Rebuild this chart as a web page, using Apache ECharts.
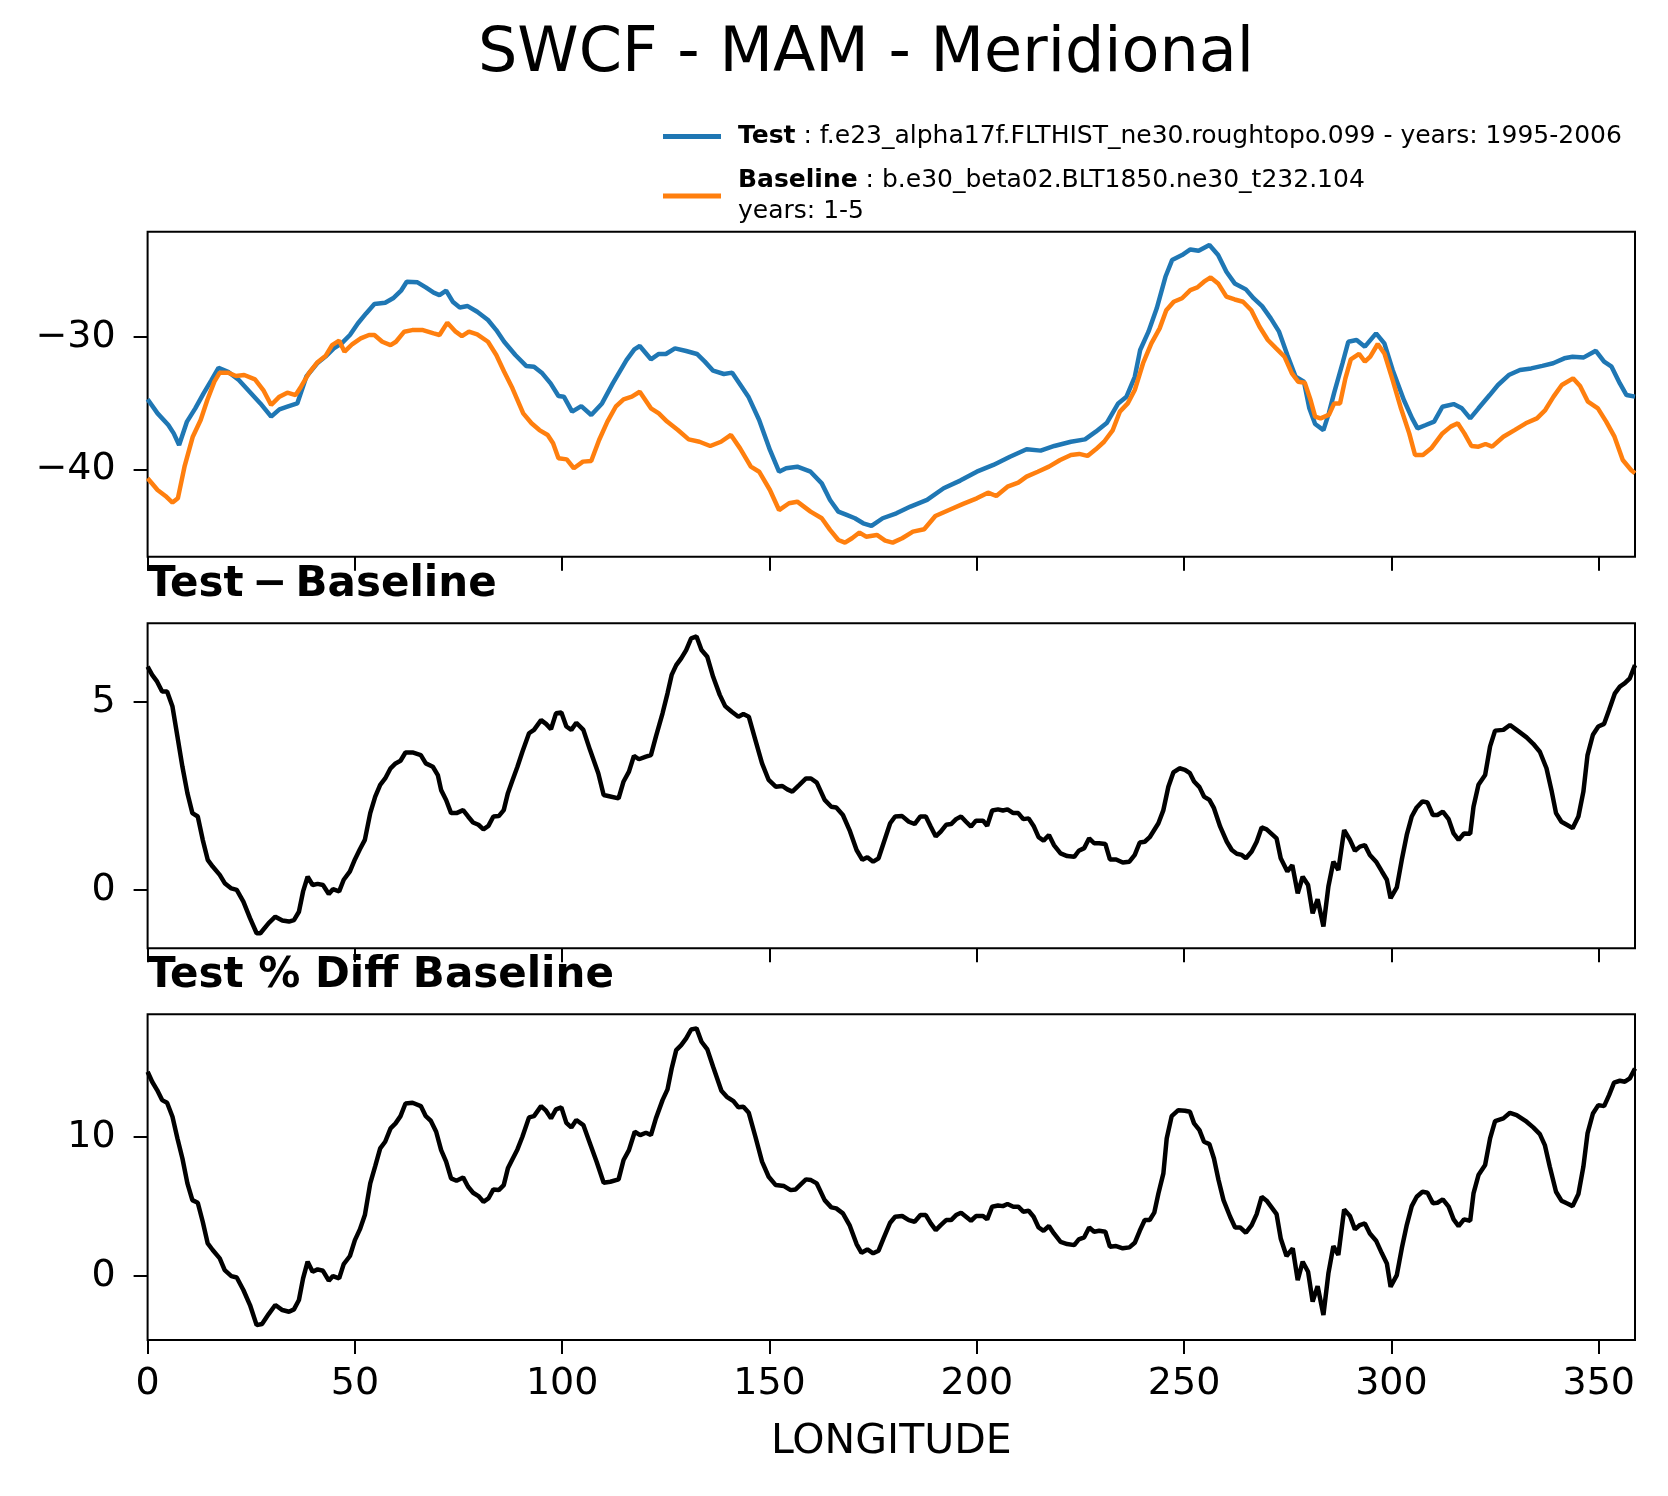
<!DOCTYPE html>
<html>
<head>
<meta charset="utf-8">
<title>SWCF - MAM - Meridional</title>
<script src="https://cdn.jsdelivr.net/npm/echarts@6/dist/echarts.min.js"></script>
<style>
  html, body { margin: 0; padding: 0; background: #fff; }
  #chart { width: 1668px; height: 1496px; }
</style>
</head>
<body>
<div id="chart"></div>
<script>
// test (blue) - longitudes and values
var testLon = [0,2.4,5,6.3,7.6,9.5,11.5,13.5,15.4,17.1,19.4,22,24.6,27.2,29.8,31.8,33.7,36.1,38.3,40.9,42.9,44.9,46.8,48.8,50.7,52.7,54.7,57.3,59.2,61.2,62.5,65.1,67.1,69,70.4,72,73.6,75.3,77.2,79.5,82.1,84.1,86,88.7,91.3,93.2,95.2,97.2,99.1,100.4,102.4,104.6,107,109.6,112.2,115.5,117.4,118.7,121.4,123.3,125,127.2,129.9,132.5,134.4,136.4,139,141,143,144.9,147.5,150.1,152.3,154,156.7,159.9,162.6,164.6,166.6,168.6,170.6,172.6,174.6,177.3,180.6,184,188,192,196,200,204,208,212,215.4,218.7,222.7,226.1,228.7,231.4,234.1,236.1,238.1,239.4,241.4,243.4,245.5,247.1,249.5,251.5,253.5,256.1,258.2,260.2,262.2,264.9,266.8,268.8,270.9,272.9,274.9,276.9,278.9,280.2,281.6,283.6,284.9,286.2,288.2,289.6,291.6,293.6,296.3,298.3,300.3,303,305,306.3,308.3,310.3,312.3,315,317,319,321,323.7,325.7,328.3,331,333.7,336.4,339,341.7,343.7,346.4,349.3,351.3,353.1,355.1,356.7,358.75];
var testVal = [-34.72,-35.78,-36.66,-37.29,-38.17,-36.4,-35.4,-34.27,-33.27,-32.34,-32.64,-33.27,-34.15,-35.03,-36.03,-35.48,-35.28,-35.03,-33.0,-32.0,-31.5,-30.88,-30.5,-29.87,-29.0,-28.24,-27.54,-27.44,-27.1,-26.5,-25.85,-25.9,-26.28,-26.68,-26.86,-26.53,-27.36,-27.79,-27.69,-28.12,-28.74,-29.5,-30.38,-31.38,-32.2,-32.26,-32.76,-33.52,-34.47,-34.52,-35.65,-35.23,-35.9,-35.03,-33.52,-31.76,-30.95,-30.7,-31.7,-31.3,-31.3,-30.88,-31.08,-31.3,-31.88,-32.56,-32.81,-32.71,-33.64,-34.52,-36.28,-38.54,-40.18,-39.92,-39.8,-40.18,-41.06,-42.31,-43.19,-43.44,-43.69,-44.07,-44.27,-43.69,-43.32,-42.81,-42.31,-41.43,-40.85,-40.18,-39.67,-39.05,-38.49,-38.59,-38.24,-37.92,-37.74,-37.16,-36.48,-35.03,-34.52,-33.02,-31.0,-29.62,-27.86,-25.48,-24.22,-23.84,-23.42,-23.52,-23.09,-23.84,-25.1,-25.98,-26.43,-27.11,-27.69,-28.62,-29.62,-31.38,-33.02,-33.39,-35.4,-36.58,-37.04,-35.78,-34.22,-32.0,-30.38,-30.25,-30.75,-29.75,-30.5,-32.51,-34.77,-36.16,-36.91,-36.66,-36.4,-35.28,-35.08,-35.4,-36.16,-35.4,-34.4,-33.64,-32.89,-32.51,-32.39,-32.2,-32.0,-31.63,-31.51,-31.56,-31.06,-31.88,-32.26,-33.52,-34.4,-34.52];

// baseline (orange)
var baseLon = [0,2.4,4.3,6,7.3,8.9,10.9,12.8,14.4,16.1,17.4,19.4,21.3,23.3,25.9,27.9,29.8,31.8,33.7,35.7,37,39,40.9,42.9,44.5,46.2,47.5,49.4,51.4,53.4,54.7,56.6,58.6,59.9,61.9,63.8,66.4,69,70.4,72.3,74.3,75.8,77.5,79.5,82.1,84.1,86,88,90.6,92.6,94.5,96.5,97.8,99.1,101.1,102.8,105,107,108.9,110.9,112.9,114.8,116.8,118.7,121.4,123.3,125.3,127.9,130.5,133.1,135.7,138.3,140.7,142.9,145.5,147.5,150.1,152.3,154.7,156.7,159.9,162.6,164.6,166.6,168.2,169.9,171.7,173.3,175.9,177.9,179.7,182,184.6,187.3,190,193.3,196.7,200,202.7,204.7,207.4,210,212,214.7,217.4,220.1,222.7,224.7,226.7,228.7,230.7,232.8,234.5,236.4,238.1,240.1,242.1,244.1,245.7,247.5,249.5,251.5,253.2,254.8,256.4,258.2,260.2,262.2,264.2,266.2,268.2,270.2,272.2,274.2,276,277.5,279.1,280.5,281.6,282.9,284.9,286.2,287.6,288.9,290.2,292.2,293.6,294.9,296.7,298.3,300.3,302.3,304.3,305.7,307.6,309.6,312.3,314.3,316,317.6,319.3,321,322.7,324.3,327,329.7,332.4,335.1,337.1,339.1,341.1,343.8,345.5,347.4,349.8,351.8,353.8,355.8,357.8,358.75];
var baseVal = [-40.68,-41.56,-42.01,-42.51,-42.19,-39.8,-37.54,-36.28,-34.77,-33.39,-32.71,-32.71,-32.96,-32.89,-33.22,-34.02,-35.15,-34.52,-34.22,-34.4,-33.77,-32.71,-31.95,-31.46,-30.63,-30.3,-31.13,-30.55,-30.13,-29.87,-29.87,-30.38,-30.63,-30.38,-29.62,-29.5,-29.5,-29.75,-29.87,-28.94,-29.62,-29.95,-29.62,-29.82,-30.38,-31.38,-32.64,-33.89,-35.78,-36.53,-37.04,-37.41,-38.04,-39.17,-39.25,-39.92,-39.42,-39.37,-37.79,-36.4,-35.28,-34.72,-34.52,-34.15,-35.4,-35.78,-36.4,-37.04,-37.74,-37.92,-38.24,-37.92,-37.41,-38.42,-39.8,-40.18,-41.56,-43.07,-42.56,-42.44,-43.19,-43.69,-44.57,-45.33,-45.53,-45.2,-44.77,-45.08,-44.95,-45.38,-45.53,-45.2,-44.7,-44.52,-43.52,-43.07,-42.61,-42.19,-41.76,-42.01,-41.31,-41.0,-40.55,-40.18,-39.8,-39.3,-38.92,-38.84,-38.99,-38.49,-37.92,-37.04,-35.65,-35.03,-34.02,-32.0,-30.5,-29.37,-28.0,-27.36,-27.1,-26.48,-26.28,-25.85,-25.53,-25.98,-26.98,-27.19,-27.36,-28.0,-29.25,-30.25,-30.88,-31.5,-32.76,-33.39,-33.47,-34.77,-36.03,-36.16,-35.9,-35.03,-35.03,-33.14,-31.71,-31.3,-31.88,-31.5,-30.55,-31.26,-33.27,-35.4,-37.29,-38.92,-38.92,-38.42,-37.29,-36.78,-36.53,-37.29,-38.24,-38.29,-38.09,-38.29,-37.54,-37.04,-36.53,-36.16,-35.53,-34.52,-33.64,-33.14,-33.72,-34.9,-35.4,-36.4,-37.54,-39.3,-40.05,-40.3];

// test - baseline
var diffLon = [0,1.1,2.3,3.5,4.7,6,7.2,8.4,9.6,10.8,12.1,13.3,14.5,15.7,17.4,18.6,20.2,21.5,23.1,24.7,26.3,27.2,29.2,30.8,32.5,34.1,35.3,36.5,37.5,38.6,39.8,41,42.3,43.7,44.7,46.2,47.3,48.8,50,51.2,52.4,53.7,54.9,56.1,57.3,58.6,59.8,61,62.2,63.9,65.9,67.1,68.8,70,70.8,72,73.2,74.5,76.1,77.3,78.5,79.8,81,82.2,83.4,84.7,85.9,86.9,87.9,89.2,90.4,92,93.2,94.9,96.1,97.3,98.5,99.8,101,102.2,103.4,105.1,106.7,108.7,110,111.6,113.6,114.8,116.1,117.3,118.5,120.2,121.4,122.6,124.2,125.4,126.4,127.5,128.7,129.9,131.1,132.4,133.6,135,136.4,138,139.3,140.9,142.5,143.7,145,146.6,148.2,149.8,151.5,153.1,154.3,155.5,157.2,158.8,160,161.4,163.3,164.9,166.1,167.7,169.3,171,172.4,173.6,175,176.3,177.5,179.1,180.3,182,183.6,185,186.4,187.7,188.9,190.1,191.3,192.6,193.8,195,196.2,197.4,198.6,199.8,201.5,202.5,203.7,205.1,206.3,207.4,208.8,210,211.2,212.5,213.7,214.9,216.1,217.4,218.6,220.2,221.8,223.5,224.6,225.9,227.1,228.3,229.5,231,232.1,233.6,235.2,236.8,238.1,239.3,240.5,241.7,243.8,245,246.2,247.4,248.9,250.2,251.4,252.4,253.7,254.8,256.1,257.2,258.7,260.3,261.5,262.7,263.9,264.9,266.3,267.5,268.7,269.9,271.1,272.3,273.3,274.9,276.1,277.4,278.6,279.9,281,282.2,283.6,284.8,286,287.2,288.6,290,291.2,292.4,293.6,294.8,296.3,297.7,298.9,299.8,301.3,302.5,303.7,304.9,306.1,307.5,308.7,310,311.1,312.4,313.8,315,316.2,317.5,319,319.8,321,322.6,323.8,325,327,328.6,330.2,332.6,334.2,335.8,337.4,338.6,339.7,341,342.3,343.7,345.1,346.3,347.3,348.6,349.9,351.3,352.5,353.9,355.1,356.3,357.5,358.75];
var diffVal = [5.93,5.71,5.53,5.27,5.27,4.87,4.07,3.27,2.57,2.04,1.95,1.33,0.8,0.62,0.4,0.18,0.04,0.0,-0.31,-0.75,-1.15,-1.15,-0.88,-0.71,-0.81,-0.84,-0.8,-0.58,-0.04,0.35,0.13,0.16,0.13,-0.11,0.02,-0.04,0.27,0.49,0.81,1.08,1.33,2.04,2.48,2.79,2.96,3.23,3.36,3.43,3.65,3.65,3.58,3.36,3.27,3.05,2.65,2.39,2.04,2.04,2.12,1.95,1.79,1.73,1.61,1.7,1.95,1.96,2.12,2.57,2.88,3.27,3.67,4.16,4.25,4.51,4.41,4.27,4.69,4.71,4.34,4.25,4.44,4.25,3.72,3.1,2.52,2.48,2.43,2.88,3.14,3.56,3.47,3.54,3.58,4.07,4.69,5.22,5.71,5.97,6.15,6.37,6.68,6.73,6.37,6.19,5.66,5.18,4.88,4.73,4.6,4.67,4.6,3.98,3.36,2.92,2.74,2.76,2.67,2.61,2.79,2.96,2.96,2.85,2.39,2.21,2.19,1.99,1.59,1.06,0.8,0.87,0.75,0.84,1.24,1.77,1.95,1.96,1.81,1.75,1.95,1.95,1.68,1.42,1.55,1.73,1.75,1.88,1.95,1.81,1.68,1.84,1.84,1.7,2.11,2.14,2.11,2.14,2.04,2.04,1.88,1.9,1.7,1.4,1.31,1.46,1.19,0.97,0.9,0.88,1.04,1.11,1.37,1.24,1.24,1.22,0.81,0.81,0.73,0.75,0.93,1.26,1.28,1.4,1.77,2.12,2.74,3.12,3.23,3.19,3.1,2.88,2.73,2.48,2.39,2.17,1.68,1.28,1.06,0.96,0.93,0.84,1.02,1.28,1.66,1.61,1.49,1.37,0.84,0.49,0.66,-0.09,0.35,0.13,-0.62,-0.25,-0.97,0.09,0.75,0.53,1.59,1.33,1.04,1.15,1.19,0.93,0.75,0.49,0.27,-0.22,0.07,0.8,1.46,1.95,2.19,2.35,2.32,1.99,1.99,2.08,1.88,1.5,1.33,1.5,1.49,2.21,2.79,3.05,3.81,4.23,4.25,4.38,4.25,4.05,3.88,3.67,3.23,2.65,2.04,1.81,1.73,1.64,1.95,2.61,3.58,4.12,4.34,4.41,4.78,5.22,5.4,5.49,5.62,5.97];

// test % diff baseline
var pctLon = [0,1.1,2.3,3.5,4.7,6,7.2,8.4,9.6,10.8,12.1,13.3,14.5,15.7,17.4,18.6,20.2,21.5,23.1,24.7,26.3,27.6,29.2,30.8,32.5,34.1,35.3,36.5,37.5,38.6,39.8,41,42.3,43.7,44.7,46.2,47.3,48.8,50,51.2,52.4,53.7,54.9,56.1,57.3,58.6,59.8,61,62.2,63.9,65.9,67.1,68.3,69.6,70.8,72,73.2,74.5,76.1,77.3,78.5,79.8,81,82.2,83.4,84.7,85.9,86.9,87.9,89.2,90.4,92,93.2,94.9,96.1,97.3,98.5,99.8,101,102.2,103.4,105.1,106.7,108.3,110,111.6,113.6,114.8,116.1,117.5,118.8,120.2,121.4,122.6,124.2,125.4,126.4,127.5,128.7,129.9,131.1,132.4,133.6,135,136.4,138.4,139.7,141.3,142.5,143.7,145,146.6,148.2,149.8,151.5,153.5,155.1,156.3,157.6,158.8,160,161.4,163.3,164.9,166.1,167.7,169.3,171,172.2,173.6,175,176.3,177.5,179.1,180.3,182,183.6,185,186.4,187.7,188.9,190.1,191.3,192.6,193.8,195,196.2,197.4,198.6,199.8,201.5,202.5,203.7,205.1,206.3,207.4,208.8,210,211.2,212.5,213.7,214.9,216.1,217.4,218.6,220.2,221.8,223.5,224.6,225.9,227.1,228.3,229.5,231,232.1,233.6,235.2,236.8,238.1,239.3,240.5,241.7,242.8,243.8,245,245.8,247,248.6,250.2,251.4,252.4,253.7,254.8,256.1,257.2,258.3,259.5,261.1,262.3,263.5,264.9,266.3,267.5,268.7,269.9,271.1,272.3,273.3,274.7,276.2,277.4,278.6,279.9,281,282.2,283.6,284.8,286,287.2,288.6,290,291.2,292.4,293.6,294.8,296.3,297.7,298.9,299.8,301.3,302.5,303.7,304.9,306.1,307.5,308.7,310,311.1,312.4,313.8,315,316.2,317.5,319,319.8,321,322.6,323.8,325,327,328.6,330.2,332.6,334.2,335.8,337,338.2,339.7,341,342.3,343.7,345.1,346.3,347.3,348.6,349.9,351.3,352.5,353.7,355.1,356.3,357.5,358.75];
var pctVal = [14.67,13.95,13.35,12.63,12.44,11.44,9.88,8.44,6.65,5.45,5.26,3.9,2.34,1.87,1.27,0.43,0,-0.1,-1.0,-2.08,-3.52,-3.44,-2.73,-2.08,-2.44,-2.56,-2.39,-1.72,-0.17,1.03,0.31,0.48,0.38,-0.33,0,-0.17,0.86,1.44,2.58,3.35,4.38,6.65,7.89,9.16,9.64,10.6,10.96,11.48,12.39,12.44,12.2,11.48,11.15,10.36,9.04,8.21,7.01,6.84,7.08,6.41,5.98,5.74,5.33,5.57,6.22,6.17,6.53,7.73,8.33,9.09,10.0,11.39,11.48,12.2,11.87,11.32,11.96,12.11,11.0,10.67,11.2,10.84,9.52,8.21,6.7,6.77,6.94,8.33,9.04,10.36,10.12,10.29,10.12,11.32,12.63,13.4,14.9,16.22,16.58,17.06,17.7,17.78,16.82,16.27,15.02,13.3,12.87,12.56,12.11,12.15,11.72,10.0,8.21,7.13,6.53,6.46,6.17,6.22,6.6,6.94,6.89,6.65,5.45,4.93,4.86,4.5,3.66,2.3,1.67,1.91,1.63,1.82,2.7,3.83,4.26,4.31,4.02,3.9,4.38,4.38,3.78,3.3,3.66,4.02,4.02,4.38,4.55,4.26,3.97,4.31,4.31,4.07,4.98,5.07,5.02,5.17,4.98,4.98,4.62,4.69,4.26,3.49,3.25,3.59,3.06,2.46,2.3,2.22,2.63,2.78,3.49,3.18,3.25,3.18,2.11,2.15,1.99,2.06,2.39,3.25,4.02,4.02,4.55,5.93,7.37,9.88,11.48,11.91,11.87,11.79,10.96,10.48,9.64,9.47,8.44,6.89,5.45,4.26,3.49,3.49,3.11,3.66,4.45,5.69,5.41,4.93,4.45,2.7,1.44,1.99,-0.29,1.03,0.31,-1.84,-0.72,-2.8,0.19,2.15,1.51,4.78,4.31,3.35,3.66,3.78,3.06,2.54,1.63,0.91,-0.77,0.07,1.99,3.66,5.02,5.69,6.05,5.98,5.22,5.26,5.5,4.98,4.07,3.59,4.07,3.97,5.93,7.25,7.97,9.88,11.12,11.32,11.72,11.56,11.08,10.67,10.19,9.4,7.85,6.05,5.41,5.22,5.02,5.89,7.85,10.24,11.67,12.27,12.2,12.99,13.88,14.02,13.95,14.19,14.9];

// tick labels
var lonTicks = [0, 50, 100, 150, 200, 250, 300, 350];
var fieldTicks = [-40, -30];
var diffTicks = [0, 5];
var pctTicks = [0, 10];

function pairs(xs, ys) {
    var out = [];
    for (var i = 0; i < xs.length; i++) {
        out.push([xs[i], ys[i]]);
    }
    return out;
}

var font = 'DejaVu Sans';

// one x axis per panel, labels only on the bottom one
function lonAxis(idx, showLabel) {
    return {
        type: 'value',
        gridIndex: idx,
        position: 'bottom',
        min: 0,
        max: 358.75,
        axisLine: { show: false, onZero: false },
        splitLine: { show: false },
        axisTick: {
            show: true, inside: false, length: 14,
            customValues: lonTicks,
            lineStyle: { color: '#000', width: 2 }
        },
        axisLabel: {
            show: showLabel, margin: 25, customValues: lonTicks,
            color: '#000', fontSize: 38, fontFamily: font
        }
    };
}

function valAxis(idx, lo, hi, ticks) {
    return {
        type: 'value',
        gridIndex: idx,
        position: 'left',
        min: lo,
        max: hi,
        axisLine: { show: false, onZero: false },
        splitLine: { show: false },
        axisTick: {
            show: true, inside: false, length: 14,
            customValues: ticks,
            lineStyle: { color: '#000', width: 2 }
        },
        axisLabel: {
            show: true, margin: 32, customValues: ticks,
            color: '#000', fontSize: 38, fontFamily: font,
            formatter: function (v) { return String(v).replace('-', '\u2212'); }
        }
    };
}

function gridBox(top, height) {
    return {
        left: 147.6, width: 1487.4, top: top, height: height,
        show: true, borderColor: '#000', borderWidth: 2,
        backgroundColor: 'transparent',
        containLabel: false, outerBoundsMode: 'none'
    };
}

var legendText = {
    'Test': '{b|Test} : f.e23_alpha17f.FLTHIST_ne30.roughtopo.099 - years: 1995-2006',
    'Baseline': '{b|Baseline} : b.e30_beta02.BLT1850.ne30_t232.104\nyears: 1-5'
};

var myChart = echarts.init(document.getElementById('chart'), null, { renderer: 'canvas' });

var option = {
    backgroundColor: '#fff',
    animation: false,
    textStyle: { fontFamily: font },
    title: [
        {
            text: 'SWCF - MAM - Meridional',
            left: 478, top: 24, padding: 0,
            textStyle: { fontSize: 62, fontWeight: 'normal', color: '#000', fontFamily: font }
        },
        {
            text: 'Test\u2009\u2212\u2009Baseline',
            left: 147, top: 564, padding: 0,
            textStyle: { fontSize: 42, fontWeight: 'bold', color: '#000', fontFamily: font }
        },
        {
            text: 'Test % Diff Baseline',
            left: 147, top: 955, padding: 0,
            textStyle: { fontSize: 42, fontWeight: 'bold', color: '#000', fontFamily: font }
        }
    ],
    legend: {
        data: ['Test', 'Baseline'],
        orient: 'vertical',
        left: 663, top: 121,
        padding: 0,
        itemGap: 13,
        itemWidth: 58,
        itemHeight: 5,
        icon: 'rect',
        selectedMode: false,
        formatter: function (name) { return legendText[name]; },
        textStyle: {
            color: '#000', fontSize: 25, fontFamily: font, lineHeight: 31,
            padding: [0, 0, 0, 12],
            rich: {
                b: { fontWeight: 'bold', fontSize: 25, lineHeight: 31, fontFamily: font, color: '#000' }
            }
        }
    },
    grid: [
        gridBox(231.7, 325),
        gridBox(623.3, 325),
        gridBox(1014.3, 325.7)
    ],
    xAxis: [
        lonAxis(0, false),
        lonAxis(1, false),
        (function () {
            var ax = lonAxis(2, true);
            ax.name = 'LONGITUDE';
            ax.nameLocation = 'middle';
            ax.nameGap = 82;
            ax.nameTextStyle = { color: '#000', fontSize: 41, fontFamily: font };
            return ax;
        })()
    ],
    yAxis: [
        valAxis(0, -46.59, -22.08, fieldTicks),
        valAxis(1, -1.55, 7.08, diffTicks),
        valAxis(2, -4.59, 18.79, pctTicks)
    ],
    series: [
        {
            name: 'Test', type: 'line', xAxisIndex: 0, yAxisIndex: 0,
            data: pairs(testLon, testVal),
            showSymbol: false, symbol: 'none', color: '#1f77b4',
            lineStyle: { color: '#1f77b4', width: 4.5 }
        },
        {
            name: 'Baseline', type: 'line', xAxisIndex: 0, yAxisIndex: 0,
            data: pairs(baseLon, baseVal),
            showSymbol: false, symbol: 'none', color: '#ff7f0e',
            lineStyle: { color: '#ff7f0e', width: 4.5 }
        },
        {
            name: 'diff', type: 'line', xAxisIndex: 1, yAxisIndex: 1,
            data: pairs(diffLon, diffVal),
            showSymbol: false, symbol: 'none', color: '#000',
            lineStyle: { color: '#000', width: 4.5 }
        },
        {
            name: 'pct', type: 'line', xAxisIndex: 2, yAxisIndex: 2,
            data: pairs(pctLon, pctVal),
            showSymbol: false, symbol: 'none', color: '#000',
            lineStyle: { color: '#000', width: 4.5 }
        }
    ]
};

myChart.setOption(option);
</script>
</body>
</html>
